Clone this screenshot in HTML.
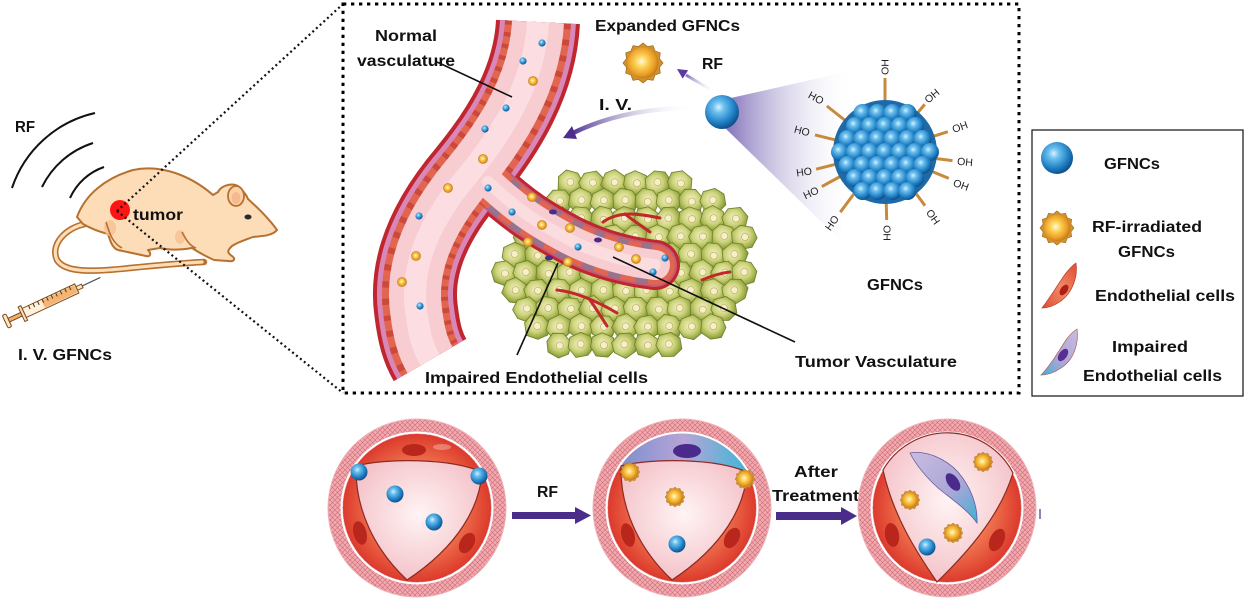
<!DOCTYPE html>
<html><head><meta charset="utf-8"><style>
html,body{margin:0;padding:0;background:#fff;}
svg{display:block;}
text{font-family:"Liberation Sans",Arial,sans-serif;font-weight:bold;fill:#111;}
.ho{font-size:10.5px;font-weight:normal;fill:#222;}
</style></head><body>
<svg width="1249" height="615" viewBox="0 0 1249 615" xmlns="http://www.w3.org/2000/svg">
<defs>
<radialGradient id="gb" cx="0.4" cy="0.36" r="0.66"><stop offset="0" stop-color="#d8f2ff"/><stop offset="0.25" stop-color="#6cc0ee"/><stop offset="0.7" stop-color="#1f7fc4"/><stop offset="1" stop-color="#0f4c86"/></radialGradient>
<radialGradient id="go" cx="0.45" cy="0.45" r="0.6"><stop offset="0" stop-color="#fffbe0"/><stop offset="0.3" stop-color="#ffd45a"/><stop offset="0.75" stop-color="#e79a22"/><stop offset="1" stop-color="#b86d14"/></radialGradient>
<radialGradient id="gcell" cx="0.45" cy="0.42" r="0.62"><stop offset="0" stop-color="#f3efc4"/><stop offset="0.5" stop-color="#cdd47c"/><stop offset="1" stop-color="#83972f"/></radialGradient>
<radialGradient id="gred" cx="0.5" cy="0.5" r="0.5"><stop offset="0" stop-color="#f9b08a"/><stop offset="0.55" stop-color="#f27a52"/><stop offset="1" stop-color="#dc3a2c"/></radialGradient>
<radialGradient id="glum" cx="0.5" cy="0.45" r="0.6"><stop offset="0" stop-color="#fff4f4"/><stop offset="1" stop-color="#f3bfc6"/></radialGradient>
<linearGradient id="gcone" x1="722" y1="0" x2="855" y2="0" gradientUnits="userSpaceOnUse"><stop offset="0" stop-color="#6d5aae" stop-opacity="0.9"/><stop offset="1" stop-color="#ffffff" stop-opacity="0"/></linearGradient>
<linearGradient id="giv" x1="692" y1="0" x2="570" y2="0" gradientUnits="userSpaceOnUse"><stop offset="0" stop-color="#ffffff" stop-opacity="0"/><stop offset="1" stop-color="#4b2e8e"/></linearGradient>
<linearGradient id="grf" x1="715" y1="90" x2="682" y2="72" gradientUnits="userSpaceOnUse"><stop offset="0" stop-color="#ffffff" stop-opacity="0"/><stop offset="1" stop-color="#5a3c9e"/></linearGradient>
<linearGradient id="gimp" x1="0" y1="0" x2="1" y2="0"><stop offset="0" stop-color="#7d8fd0"/><stop offset="0.5" stop-color="#b7a5d6"/><stop offset="1" stop-color="#3fb6d8"/></linearGradient>
<linearGradient id="gimp2" x1="0" y1="0" x2="1" y2="1"><stop offset="0" stop-color="#c8bde0"/><stop offset="0.6" stop-color="#a9a6d6"/><stop offset="1" stop-color="#3fb0d6"/></linearGradient>
<linearGradient id="gimp3" x1="1" y1="0" x2="0" y2="1"><stop offset="0" stop-color="#c8bde0"/><stop offset="0.6" stop-color="#a9a6d6"/><stop offset="1" stop-color="#3fb0d6"/></linearGradient>
<linearGradient id="gendo" x1="1" y1="0" x2="0" y2="1"><stop offset="0" stop-color="#e04a30"/><stop offset="0.5" stop-color="#f08a66"/><stop offset="1" stop-color="#e04a30"/></linearGradient>
<pattern id="hatch" width="5" height="5" patternUnits="userSpaceOnUse"><rect width="5" height="5" fill="#f0aab0"/><path d="M0,0 L5,5 M5,0 L0,5" stroke="#d06a74" stroke-width="0.6"/></pattern>
<g id="bball"><circle r="10" fill="url(#gb)"/></g>
<g id="oball"><polygon points="20,0 16.4,4.4 17.3,10 12,12 10,17.3 4.4,16.4 0,20 -4.4,16.4 -10,17.3 -12,12 -17.3,10 -16.4,4.4 -20,0 -16.4,-4.4 -17.3,-10 -12,-12 -10,-17.3 -4.4,-16.4 0,-20 4.4,-16.4 10,-17.3 12,-12 17.3,-10 16.4,-4.4" fill="#d0922e" stroke="#a8701e" stroke-width="0.8"/><circle r="15.5" fill="url(#go)"/></g>
<g id="t1"><path d="M-13,-2 L-8,-11 L4,-12 L12,-5 L12,6 L3,12 L-9,10 Z" fill="url(#gcell)" stroke="#6f7f28" stroke-width="0.8"/><circle cx="0" cy="-1" r="3.5" fill="#f6f0c8" stroke="#b9a85c" stroke-width="0.6"/></g>
<g id="t2"><path d="M-12,-6 L-3,-12 L9,-9 L13,2 L7,11 L-5,12 L-12,4 Z" fill="url(#gcell)" stroke="#6f7f28" stroke-width="0.8"/><circle cx="1" cy="0" r="3.5" fill="#f6f0c8" stroke="#b9a85c" stroke-width="0.6"/></g>
</defs>

<!-- ============ LEFT: mouse ============ -->
<g fill="none" stroke="#111" stroke-width="2">
<path d="M12,188 A114,114 0 0,1 95,113"/>
<path d="M42,187 A86,86 0 0,1 93,143"/>
<path d="M70,198 A58,58 0 0,1 104,167"/>
</g>
<text x="15" y="132" font-size="16" textLength="20" lengthAdjust="spacingAndGlyphs">RF</text>

<path d="M85,224 C65,228 50,245 57,260 C65,273 92,272 130,268 C160,265 185,263 204,262" fill="none" stroke="#b5712f" stroke-width="6.5" stroke-linecap="round"/>
<path d="M85,224 C65,228 50,245 57,260 C65,273 92,272 130,268 C160,265 185,263 202,262" fill="none" stroke="#fddcb8" stroke-width="3.2" stroke-linecap="round"/>
<path d="M77,217 C85,195 105,178 133,170 C160,164 190,175 213,195 L218,192 C222,184 236,182 240,188 C244,192 247,196 248,199 C258,208 270,220 277,230 C272,236 262,236 253,237 C245,240 238,242 232,246 C228,250 226,252 232,256 C236,259 234,262 228,261 L214,260 C205,256 198,252 192,248 C180,250 168,250 160,248 L148,250 C152,254 150,257 146,256 L118,250 C112,248 110,240 108,234 C100,232 90,228 83,224 Z" fill="#fddcb8" stroke="#b5712f" stroke-width="2" stroke-linejoin="round"/>
<ellipse cx="236" cy="196" rx="8" ry="10" fill="#fdd0a8" stroke="#b5712f" stroke-width="1.8"/>
<ellipse cx="236" cy="198" rx="4.5" ry="6" fill="#f6b98e"/>
<ellipse cx="248" cy="217" rx="3.5" ry="2.5" fill="#2a2a2a"/>
<ellipse cx="110" cy="228" rx="6" ry="8" fill="#f7c194" opacity="0.8"/>
<ellipse cx="180" cy="237" rx="5" ry="7" fill="#f7c194" opacity="0.8"/>
<path d="M106,222 C110,236 114,244 122,248" fill="none" stroke="#b5712f" stroke-width="1.6"/>
<path d="M182,232 C186,240 190,246 196,248" fill="none" stroke="#b5712f" stroke-width="1.6"/>
<circle cx="120" cy="210" r="10" fill="#ff1414"/>
<text x="133" y="220" font-size="16" textLength="50" lengthAdjust="spacingAndGlyphs">tumor</text>
<g fill="none" stroke="#111" stroke-width="2.2" stroke-dasharray="2 3">
<path d="M117,211 L343,4"/>
<path d="M117,211 L343,393"/>
</g>

<g transform="translate(7,321) rotate(-25)" stroke="#7a4a1a" stroke-width="1">
<rect x="-2" y="-7" width="4" height="14" rx="1.5" fill="#fde7c8"/>
<rect x="2" y="-2" width="14" height="4" fill="#f2b070"/>
<rect x="16" y="-8" width="3" height="16" fill="#fde7c8"/>
<rect x="19" y="-5" width="58" height="10" fill="#fdf0dc"/>
<rect x="40" y="-4" width="36" height="8" fill="#f0a050" stroke="none" opacity="0.75"/>
<path d="M26,-5 V-1 M31,-5 V-1 M36,-5 V-1 M41,-5 V-1 M46,-5 V-1 M51,-5 V-1 M56,-5 V-1 M61,-5 V-1 M66,-5 V-1 M71,-5 V-1" stroke="#5a3510"/>
<rect x="77" y="-2" width="6" height="4" fill="#fde7c8"/>
<line x1="83" y1="0" x2="103" y2="0" stroke="#555" stroke-width="1.2"/>
</g>
<text x="18" y="360" font-size="16" textLength="94" lengthAdjust="spacingAndGlyphs">I. V. GFNCs</text>

<!-- ============ TOP BOX ============ -->
<rect x="343" y="4" width="676" height="389" fill="none" stroke="#000" stroke-width="3" stroke-dasharray="3.3 4.7"/>

<!-- tumor cluster -->
<g>
<use href="#t1" transform="translate(570,183) rotate(20)"/><use href="#t2" transform="translate(592,183) rotate(-25)"/><use href="#t1" transform="translate(614,183) rotate(40)"/><use href="#t2" transform="translate(636,183) rotate(10)"/><use href="#t1" transform="translate(658,183) rotate(-35)"/><use href="#t2" transform="translate(680,183) rotate(25)"/>
<use href="#t2" transform="translate(559,201) rotate(-15)"/><use href="#t1" transform="translate(581,201) rotate(30)"/><use href="#t2" transform="translate(603,201) rotate(-40)"/><use href="#t1" transform="translate(625,201) rotate(15)"/><use href="#t2" transform="translate(647,201) rotate(45)"/><use href="#t1" transform="translate(669,201) rotate(-20)"/><use href="#t2" transform="translate(691,201) rotate(35)"/><use href="#t1" transform="translate(713,201) rotate(-10)"/>
<use href="#t1" transform="translate(537,219) rotate(30)"/><use href="#t2" transform="translate(559,219) rotate(-30)"/><use href="#t1" transform="translate(581,219) rotate(10)"/><use href="#t2" transform="translate(603,219) rotate(50)"/><use href="#t1" transform="translate(625,219) rotate(-25)"/><use href="#t2" transform="translate(647,219) rotate(20)"/><use href="#t1" transform="translate(669,219) rotate(-45)"/><use href="#t2" transform="translate(691,219) rotate(5)"/><use href="#t1" transform="translate(713,219) rotate(35)"/><use href="#t2" transform="translate(735,219) rotate(-20)"/>
<use href="#t2" transform="translate(526,237) rotate(15)"/><use href="#t1" transform="translate(548,237) rotate(-35)"/><use href="#t2" transform="translate(570,237) rotate(40)"/><use href="#t1" transform="translate(592,237) rotate(-10)"/><use href="#t2" transform="translate(614,237) rotate(25)"/><use href="#t1" transform="translate(636,237) rotate(-40)"/><use href="#t2" transform="translate(658,237) rotate(10)"/><use href="#t1" transform="translate(680,237) rotate(45)"/><use href="#t2" transform="translate(702,237) rotate(-25)"/><use href="#t1" transform="translate(724,237) rotate(20)"/><use href="#t2" transform="translate(744,237) rotate(-5)"/>
<use href="#t1" transform="translate(515,255) rotate(-20)"/><use href="#t2" transform="translate(537,255) rotate(35)"/><use href="#t1" transform="translate(559,255) rotate(-45)"/><use href="#t2" transform="translate(581,255) rotate(15)"/><use href="#t1" transform="translate(603,255) rotate(30)"/><use href="#t2" transform="translate(625,255) rotate(-15)"/><use href="#t1" transform="translate(647,255) rotate(50)"/><use href="#t2" transform="translate(669,255) rotate(-30)"/><use href="#t1" transform="translate(691,255) rotate(5)"/><use href="#t2" transform="translate(713,255) rotate(40)"/><use href="#t1" transform="translate(735,255) rotate(-35)"/>
<use href="#t2" transform="translate(504,273) rotate(25)"/><use href="#t1" transform="translate(526,273) rotate(-10)"/><use href="#t2" transform="translate(548,273) rotate(45)"/><use href="#t1" transform="translate(570,273) rotate(-30)"/><use href="#t2" transform="translate(592,273) rotate(10)"/><use href="#t1" transform="translate(614,273) rotate(35)"/><use href="#t2" transform="translate(636,273) rotate(-40)"/><use href="#t1" transform="translate(658,273) rotate(20)"/><use href="#t2" transform="translate(680,273) rotate(-15)"/><use href="#t1" transform="translate(702,273) rotate(40)"/><use href="#t2" transform="translate(724,273) rotate(-25)"/><use href="#t1" transform="translate(744,273) rotate(15)"/>
<use href="#t1" transform="translate(515,291) rotate(40)"/><use href="#t2" transform="translate(537,291) rotate(-20)"/><use href="#t1" transform="translate(559,291) rotate(10)"/><use href="#t2" transform="translate(581,291) rotate(-45)"/><use href="#t1" transform="translate(603,291) rotate(25)"/><use href="#t2" transform="translate(625,291) rotate(-5)"/><use href="#t1" transform="translate(647,291) rotate(-30)"/><use href="#t2" transform="translate(669,291) rotate(35)"/><use href="#t1" transform="translate(691,291) rotate(-15)"/><use href="#t2" transform="translate(713,291) rotate(20)"/><use href="#t1" transform="translate(735,291) rotate(-40)"/>
<use href="#t2" transform="translate(526,309) rotate(-30)"/><use href="#t1" transform="translate(548,309) rotate(15)"/><use href="#t2" transform="translate(570,309) rotate(-10)"/><use href="#t1" transform="translate(592,309) rotate(45)"/><use href="#t2" transform="translate(614,309) rotate(-35)"/><use href="#t1" transform="translate(636,309) rotate(5)"/><use href="#t2" transform="translate(658,309) rotate(30)"/><use href="#t1" transform="translate(680,309) rotate(-20)"/><use href="#t2" transform="translate(702,309) rotate(40)"/><use href="#t1" transform="translate(724,309) rotate(-10)"/>
<use href="#t1" transform="translate(537,327) rotate(10)"/><use href="#t2" transform="translate(559,327) rotate(-40)"/><use href="#t1" transform="translate(581,327) rotate(30)"/><use href="#t2" transform="translate(603,327) rotate(-15)"/><use href="#t1" transform="translate(625,327) rotate(45)"/><use href="#t2" transform="translate(647,327) rotate(-25)"/><use href="#t1" transform="translate(669,327) rotate(15)"/><use href="#t2" transform="translate(691,327) rotate(-35)"/><use href="#t1" transform="translate(713,327) rotate(25)"/>
<use href="#t2" transform="translate(559,345) rotate(35)"/><use href="#t1" transform="translate(581,345) rotate(-20)"/><use href="#t2" transform="translate(603,345) rotate(10)"/><use href="#t1" transform="translate(625,345) rotate(-45)"/><use href="#t2" transform="translate(647,345) rotate(20)"/><use href="#t1" transform="translate(669,345) rotate(-10)"/>
</g>
<g fill="none" stroke="#c0282a" stroke-width="3" stroke-linecap="round">
<path d="M603,222 C620,210 640,214 660,218"/>
<path d="M625,214 C635,222 642,226 650,232"/>
<path d="M557,290 C575,292 595,300 617,313"/>
<path d="M590,300 C597,310 602,318 607,326"/>
<path d="M702,280 C712,276 720,273 730,272"/>
</g>

<!-- vessel tube -->
<g fill="none" stroke-linecap="butt">
<path d="M538,22 C535,80 505,130 468,175 C430,220 410,265 416,310 C419,335 423,348 430,360" stroke="#c0262d" stroke-width="84"/>
<path d="M488,182 C520,212 540,224 570,240 C600,255 630,262 655,265" stroke="#c0262d" stroke-width="50" stroke-linecap="round"/>
<path d="M538,22 C535,80 505,130 468,175 C430,220 410,265 416,310 C419,335 423,348 430,360" stroke="#d887b8" stroke-width="76"/>
<path d="M488,182 C520,212 540,224 570,240 C600,255 630,262 655,265" stroke="#c45a7a" stroke-width="44" stroke-linecap="round"/>
<path d="M538,22 C535,80 505,130 468,175 C430,220 410,265 416,310 C419,335 423,348 430,360" stroke="#e2664f" stroke-width="66"/>
<path d="M538,22 C535,80 505,130 468,175 C430,220 410,265 416,310 C419,335 423,348 430,360" stroke="#b8302a" stroke-width="66" stroke-dasharray="5 9" opacity="0.55"/>
<path d="M488,182 C520,212 540,224 570,240 C600,255 630,262 655,265" stroke="#e2664f" stroke-width="40" stroke-linecap="round"/>
<path d="M500,194 C525,215 540,224 570,240 C600,255 630,262 655,265" stroke="#5a7ec0" stroke-width="40" stroke-dasharray="12 14" opacity="0.55"/>
<path d="M538,22 C535,80 505,130 468,175 C430,220 410,265 416,310 C419,335 423,348 430,360" stroke="#f7cdd2" stroke-width="52"/>
<path d="M488,182 C520,212 540,224 570,240 C600,255 630,262 655,265" stroke="#f7cdd2" stroke-width="30" stroke-linecap="round"/>
<path d="M538,22 C535,80 505,130 468,175 C430,220 410,265 416,310 C419,335 423,348 430,360" stroke="#fde6e8" stroke-width="22" opacity="0.7"/>
<path d="M488,182 C520,212 540,224 570,240 C600,255 630,262 655,265" stroke="#fde6e8" stroke-width="12" opacity="0.6" stroke-linecap="round"/>
</g>
<g fill="#4a2a8a"><ellipse cx="553" cy="212" rx="4" ry="2.5"/><ellipse cx="598" cy="240" rx="4" ry="2.5"/><ellipse cx="549" cy="258" rx="4" ry="2.5"/></g>
<g fill="url(#gb)">
<circle cx="542" cy="43" r="3.6"/><circle cx="523" cy="61" r="3.6"/><circle cx="506" cy="108" r="3.6"/><circle cx="485" cy="129" r="3.6"/><circle cx="488" cy="188" r="3.6"/><circle cx="419" cy="216" r="3.6"/><circle cx="420" cy="306" r="3.6"/><circle cx="512" cy="212" r="3.6"/><circle cx="578" cy="247" r="3.6"/><circle cx="665" cy="258" r="3.6"/><circle cx="653" cy="272" r="3.6"/>
</g>
<g fill="url(#go)" stroke="#c8862a" stroke-width="0.8">
<circle cx="533" cy="81" r="4.5"/><circle cx="483" cy="159" r="4.5"/><circle cx="448" cy="188" r="4.5"/><circle cx="416" cy="256" r="4.5"/><circle cx="402" cy="282" r="4.5"/><circle cx="532" cy="197" r="4.5"/><circle cx="542" cy="225" r="4.5"/><circle cx="570" cy="228" r="4.5"/><circle cx="528" cy="242" r="4.5"/><circle cx="568" cy="262" r="4.5"/><circle cx="619" cy="247" r="4.5"/><circle cx="636" cy="259" r="4.5"/>
</g>

<g stroke="#111" stroke-width="1.6">
<line x1="437" y1="62" x2="512" y2="97"/>
<line x1="613" y1="257" x2="795" y2="342"/>
<line x1="517" y1="355" x2="558" y2="263"/>
</g>
<text x="375" y="41" font-size="16" textLength="62" lengthAdjust="spacingAndGlyphs">Normal</text>
<text x="357" y="66" font-size="16" textLength="98" lengthAdjust="spacingAndGlyphs">vasculature</text>
<text x="595" y="31" font-size="16" textLength="145" lengthAdjust="spacingAndGlyphs">Expanded GFNCs</text>
<text x="702" y="69" font-size="16" textLength="21" lengthAdjust="spacingAndGlyphs">RF</text>
<text x="599" y="110" font-size="16" textLength="33" lengthAdjust="spacingAndGlyphs">I. V.</text>
<text x="425" y="383" font-size="16" textLength="223" lengthAdjust="spacingAndGlyphs">Impaired Endothelial cells</text>
<text x="795" y="367" font-size="16" textLength="162" lengthAdjust="spacingAndGlyphs">Tumor Vasculature</text>
<text x="867" y="290" font-size="16" textLength="56" lengthAdjust="spacingAndGlyphs">GFNCs</text>

<use href="#oball" transform="translate(643,63)"/>
<path d="M713,91 L686,75" stroke="url(#grf)" stroke-width="3" fill="none"/>
<polygon points="677,69 688.1,70.2 682.7,78.6" fill="#5a3c9e"/>
<path d="M692,108 C650,108 610,115 573,133" stroke="url(#giv)" stroke-width="4.5" fill="none"/>
<polygon points="563,138 577,139 572,126" fill="#4b2e8e"/>

<polygon points="722,100 855,70 840,240 722,125" fill="url(#gcone)"/>
<use href="#bball" transform="translate(722,112) scale(1.7)"/>

<g stroke="#c78a3a" stroke-width="3">
<line x1="885" y1="102" x2="885" y2="78"/>
<line x1="917" y1="113.6" x2="924.7" y2="104.4"/>
<line x1="932.6" y1="136.6" x2="947.8" y2="131.7"/>
<line x1="934.6" y1="158.4" x2="952.5" y2="160.6"/>
<line x1="931.2" y1="171.1" x2="948.8" y2="178.4"/>
<line x1="914.9" y1="192" x2="925" y2="205.7"/>
<line x1="886.2" y1="202" x2="886.7" y2="220"/>
<line x1="855.2" y1="192.1" x2="840.3" y2="212.2"/>
<line x1="841.1" y1="176" x2="821.8" y2="186.6"/>
<line x1="836.5" y1="164.1" x2="816.1" y2="169.2"/>
<line x1="836.4" y1="140.2" x2="815" y2="134.9"/>
<line x1="845.8" y1="121" x2="826.9" y2="106"/>
</g>
<circle cx="885" cy="152" r="52" fill="#1e6aa8"/>
<g>
<use href="#bball" transform="translate(862.5,113) scale(0.9)"/><use href="#bball" transform="translate(877.5,113) scale(0.9)"/><use href="#bball" transform="translate(892.5,113) scale(0.9)"/><use href="#bball" transform="translate(907.5,113) scale(0.9)"/>
<use href="#bball" transform="translate(855,126) scale(0.9)"/><use href="#bball" transform="translate(870,126) scale(0.9)"/><use href="#bball" transform="translate(885,126) scale(0.9)"/><use href="#bball" transform="translate(900,126) scale(0.9)"/><use href="#bball" transform="translate(915,126) scale(0.9)"/>
<use href="#bball" transform="translate(847.5,139) scale(0.9)"/><use href="#bball" transform="translate(862.5,139) scale(0.9)"/><use href="#bball" transform="translate(877.5,139) scale(0.9)"/><use href="#bball" transform="translate(892.5,139) scale(0.9)"/><use href="#bball" transform="translate(907.5,139) scale(0.9)"/><use href="#bball" transform="translate(922.5,139) scale(0.9)"/>
<use href="#bball" transform="translate(840,152) scale(0.9)"/><use href="#bball" transform="translate(855,152) scale(0.9)"/><use href="#bball" transform="translate(870,152) scale(0.9)"/><use href="#bball" transform="translate(885,152) scale(0.9)"/><use href="#bball" transform="translate(900,152) scale(0.9)"/><use href="#bball" transform="translate(915,152) scale(0.9)"/><use href="#bball" transform="translate(930,152) scale(0.9)"/>
<use href="#bball" transform="translate(847.5,165) scale(0.9)"/><use href="#bball" transform="translate(862.5,165) scale(0.9)"/><use href="#bball" transform="translate(877.5,165) scale(0.9)"/><use href="#bball" transform="translate(892.5,165) scale(0.9)"/><use href="#bball" transform="translate(907.5,165) scale(0.9)"/><use href="#bball" transform="translate(922.5,165) scale(0.9)"/>
<use href="#bball" transform="translate(855,178) scale(0.9)"/><use href="#bball" transform="translate(870,178) scale(0.9)"/><use href="#bball" transform="translate(885,178) scale(0.9)"/><use href="#bball" transform="translate(900,178) scale(0.9)"/><use href="#bball" transform="translate(915,178) scale(0.9)"/>
<use href="#bball" transform="translate(862.5,191) scale(0.9)"/><use href="#bball" transform="translate(877.5,191) scale(0.9)"/><use href="#bball" transform="translate(892.5,191) scale(0.9)"/><use href="#bball" transform="translate(907.5,191) scale(0.9)"/>
</g>
<g text-anchor="middle">
<text class="ho" transform="translate(885,67) rotate(-90)" dy="3.5">OH</text>
<text class="ho" transform="translate(932,96) rotate(-40)" dy="3.5">OH</text>
<text class="ho" transform="translate(960,127) rotate(-20)" dy="3.5">OH</text>
<text class="ho" transform="translate(965,162) rotate(5)" dy="3.5">OH</text>
<text class="ho" transform="translate(961,185) rotate(20)" dy="3.5">OH</text>
<text class="ho" transform="translate(933,217) rotate(55)" dy="3.5">OH</text>
<text class="ho" transform="translate(887,233) rotate(90)" dy="3.5">OH</text>
<text class="ho" transform="translate(832,223) rotate(-55)" dy="3.5">HO</text>
<text class="ho" transform="translate(811,193) rotate(-25)" dy="3.5">HO</text>
<text class="ho" transform="translate(804,172) rotate(-8)" dy="3.5">HO</text>
<text class="ho" transform="translate(802,131) rotate(15)" dy="3.5">HO</text>
<text class="ho" transform="translate(816,98) rotate(28)" dy="3.5">HO</text>
</g>

<!-- ============ LEGEND ============ -->
<rect x="1032" y="130" width="211" height="266" fill="none" stroke="#111" stroke-width="1.2"/>
<use href="#bball" transform="translate(1057,158) scale(1.6)"/>
<text x="1104" y="169" font-size="16" textLength="56" lengthAdjust="spacingAndGlyphs">GFNCs</text>
<use href="#oball" transform="translate(1057,228) scale(0.85)"/>
<text x="1092" y="232" font-size="16" textLength="110" lengthAdjust="spacingAndGlyphs">RF-irradiated</text>
<text x="1118" y="257" font-size="16" textLength="57" lengthAdjust="spacingAndGlyphs">GFNCs</text>
<path d="M1042,308 C1050,298 1058,284 1066,273 C1070,268 1073,265 1076,263 C1078,276 1073,292 1061,301 C1054,306 1047,308 1042,308 Z" fill="url(#gendo)" stroke="#b83a2a" stroke-width="0.7"/>
<ellipse cx="1064" cy="290" rx="3.5" ry="6" transform="rotate(35 1064 290)" fill="#b01e18"/>
<text x="1095" y="301" font-size="16" textLength="140" lengthAdjust="spacingAndGlyphs">Endothelial cells</text>
<path d="M1041,375 C1050,366 1058,352 1066,340 C1070,334 1074,331 1077,329 C1079,343 1074,360 1061,368 C1054,373 1047,375 1041,375 Z" fill="url(#gimp3)" stroke="#b0605a" stroke-width="0.7"/>
<ellipse cx="1063" cy="355" rx="4" ry="7" transform="rotate(35 1063 355)" fill="#5a2d91"/>
<text x="1112" y="352" font-size="16" textLength="76" lengthAdjust="spacingAndGlyphs">Impaired</text>
<text x="1083" y="381" font-size="16" textLength="139" lengthAdjust="spacingAndGlyphs">Endothelial cells</text>

<!-- ============ BOTTOM ============ -->
<g>
<circle cx="417" cy="508" r="89" fill="url(#hatch)" stroke="#eeb0b4" stroke-width="1"/>
<circle cx="417" cy="508" r="75.5" fill="none" stroke="#fff" stroke-width="2"/>
<circle cx="417" cy="508" r="74" fill="url(#gred)"/>
<path d="M356,466 C385,458 450,458 482,472 C480,505 460,545 407,580 C375,550 355,510 356,466 Z" fill="url(#glum)" stroke="#8c2a22" stroke-width="1.2"/>
<ellipse cx="414" cy="450" rx="12" ry="6" fill="#b8261c"/>
<ellipse cx="360" cy="533" rx="6.5" ry="12" transform="rotate(-15 360 533)" fill="#b8261c"/>
<ellipse cx="467" cy="543" rx="7" ry="11" transform="rotate(30 467 543)" fill="#b8261c"/>
<ellipse cx="442" cy="447" rx="9" ry="3" fill="#fff" opacity="0.3"/>
<use href="#bball" transform="translate(359,472) scale(0.85)"/>
<use href="#bball" transform="translate(479,476) scale(0.85)"/>
<use href="#bball" transform="translate(395,494) scale(0.85)"/>
<use href="#bball" transform="translate(434,522) scale(0.85)"/>
</g>
<rect x="512" y="512" width="64" height="7" fill="#4a2d8a"/>
<polygon points="575,507 591,515.5 575,524" fill="#4a2d8a"/>
<text x="537" y="497" font-size="16" textLength="21" lengthAdjust="spacingAndGlyphs">RF</text>

<g>
<circle cx="682" cy="508" r="89" fill="url(#hatch)" stroke="#eeb0b4" stroke-width="1"/>
<circle cx="682" cy="508" r="75.5" fill="none" stroke="#fff" stroke-width="2"/>
<circle cx="682" cy="508" r="74" fill="url(#gred)"/>
<path d="M621,466 A74,74 0 0,1 747,472 C715,458 650,458 621,466 Z" fill="url(#gimp)"/>
<path d="M621,466 C650,458 715,458 747,472 C745,505 725,545 672,580 C640,550 620,510 621,466 Z" fill="url(#glum)" stroke="#8c2a22" stroke-width="1.2"/>
<ellipse cx="687" cy="451" rx="14" ry="7" fill="#4a2a8a"/>
<ellipse cx="628" cy="535" rx="6.5" ry="12" transform="rotate(-15 628 535)" fill="#b8261c"/>
<ellipse cx="732" cy="538" rx="7" ry="11" transform="rotate(30 732 538)" fill="#b8261c"/>
<use href="#oball" transform="translate(630,472) scale(0.5)"/>
<use href="#oball" transform="translate(745,479) scale(0.5)"/>
<use href="#oball" transform="translate(675,497) scale(0.5)"/>
<use href="#bball" transform="translate(677,544) scale(0.85)"/>
</g>
<rect x="776" y="512" width="66" height="8" fill="#4a2d8a"/>
<polygon points="841,507 857,516 841,525" fill="#4a2d8a"/>
<text x="794" y="477" font-size="16" textLength="44" lengthAdjust="spacingAndGlyphs">After</text>
<text x="772" y="501" font-size="16" textLength="87" lengthAdjust="spacingAndGlyphs">Treatment</text>

<g>
<circle cx="947" cy="508" r="89" fill="url(#hatch)" stroke="#eeb0b4" stroke-width="1"/>
<circle cx="947" cy="508" r="75.5" fill="none" stroke="#fff" stroke-width="2"/>
<circle cx="947" cy="508" r="74" fill="url(#gred)"/>
<path d="M883,470 A74,74 0 0,1 1013,473 C1000,515 970,550 937,582 C915,550 893,515 883,470 Z" fill="url(#glum)" stroke="#8c2a22" stroke-width="1.2"/>
<path d="M910,453 C925,450 945,458 958,472 C970,486 978,505 977,523 C968,510 950,498 938,488 C925,476 916,465 910,453 Z" fill="url(#gimp2)" stroke="#6a5a9a" stroke-width="0.8"/>
<ellipse cx="953" cy="482" rx="5.5" ry="10" transform="rotate(-35 953 482)" fill="#4a2a8a"/>
<ellipse cx="892" cy="535" rx="7" ry="12" transform="rotate(-10 892 535)" fill="#b8261c"/>
<ellipse cx="997" cy="540" rx="7" ry="12" transform="rotate(25 997 540)" fill="#b8261c"/>
<use href="#oball" transform="translate(983,462) scale(0.5)"/>
<use href="#oball" transform="translate(910,500) scale(0.5)"/>
<use href="#oball" transform="translate(953,533) scale(0.5)"/>
<use href="#bball" transform="translate(927,547) scale(0.85)"/>
</g>
<rect x="1039" y="509" width="2" height="10" fill="#6a4a9a" opacity="0.7"/>
</svg>
</body></html>
